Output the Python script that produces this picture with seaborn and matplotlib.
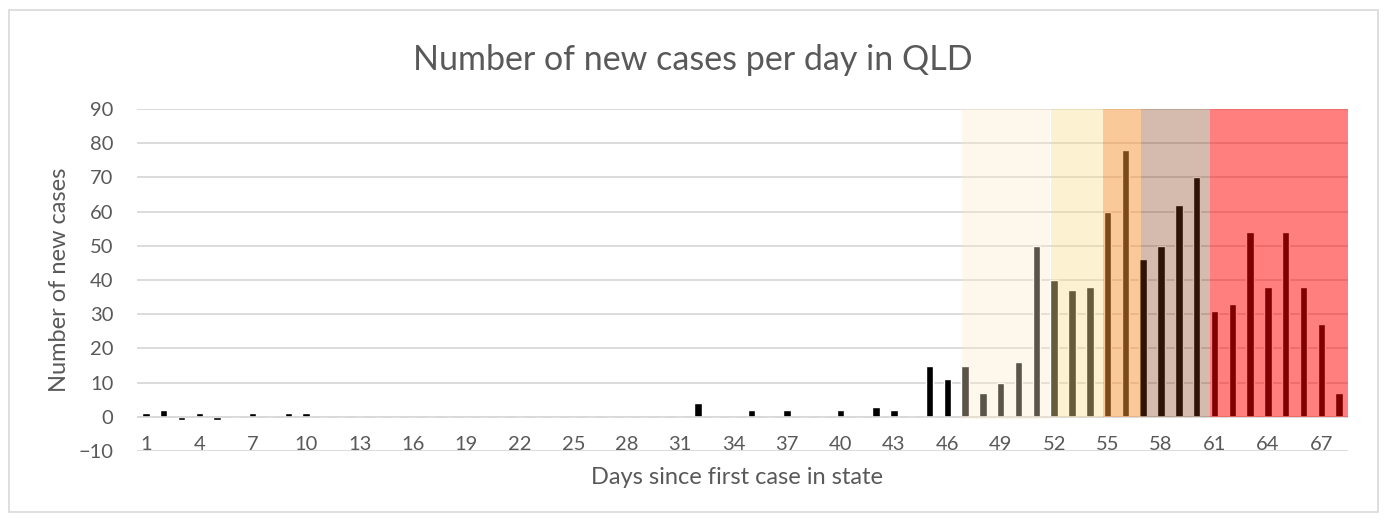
import numpy as np
import pandas as pd
import seaborn as sns
import matplotlib.pyplot as plt
from matplotlib.patches import Rectangle

# --- data: new cases per day in QLD ---
days = list(range(1, 69))
new_cases = [1, 2, -1, 1, -1, 0, 1, 0, 1, 1,
             0, 0, 0, 0, 0, 0, 0, 0, 0, 0,
             0, 0, 0, 0, 0, 0, 0, 0, 0, 0,
             0, 4, 0, 0, 2, 0, 2, 0, 0, 2,
             0, 3, 2, 0, 15, 11, 15, 7, 10, 16,
             50, 40, 37, 38, 60, 78, 46, 50, 62, 70,
             31, 33, 54, 38, 54, 38, 27, 7]
tick_days = days[::3]

# shaded phases (in days)
phase_start = [46.8, 51.85, 54.75, 56.9, 60.75]
phase_end = [51.75, 54.75, 56.9, 60.75, 68.5]
phase_top = [90.6, 91.5, 91.0, 90.0, 90.3]
phase_bottom = [-0.6, 0, 0, 0, 0]
phase_colors = ['#faecc8', '#f9e092', '#f69436', '#863c14', '#ff0000']
phase_alpha = [0.36, 0.41, 0.5, 0.35, 0.5]

df = pd.DataFrame({'day': days, 'cases': new_cases})

sns.set_theme(style='white')
plt.rcParams['font.family'] = ['Lato', 'DejaVu Sans']
txt = '#595959'

fig = plt.figure(figsize=(13.87, 5.2), dpi=100)
ax = fig.add_axes([137 / 1387, 1 - 451 / 520, (1348 - 137) / 1387, (451 - 109) / 520])

sns.barplot(data=df, x='day', y='cases', color='black', saturation=1,
            width=0.42, ax=ax, zorder=2)

# phase overlays on top of bars
for s, e, t, b, c, a in zip(phase_start, phase_end, phase_top, phase_bottom,
                            phase_colors, phase_alpha):
    ax.add_patch(Rectangle((s - 1, b), e - s, t - b, facecolor=c, alpha=a,
                           edgecolor='none', zorder=4))

ax.axhline(0, color='#d9d9d9', lw=1.2, zorder=3)
ax.set_ylim(-10, 90)
ax.set_xlim(-0.5, 67.5)
ax.set_yticks(range(-10, 91, 10))
ax.yaxis.grid(True, color='#d9d9d9', lw=1.3)
ax.set_axisbelow(True)
for sp in ax.spines.values():
    sp.set_visible(False)

ax.set_xticks([d - 1 for d in tick_days])
ax.set_xticklabels(tick_days)
ax.tick_params(axis='x', length=0, pad=-10.5, labelsize=14.5, labelcolor=txt)
ax.tick_params(axis='y', length=0, pad=17, labelsize=14.5, labelcolor=txt)
ax.set_xlabel('')
ax.set_ylabel('Number of new cases', fontsize=17, color=txt, labelpad=6)

fig.text(737 / 1387, 1 - 478 / 520, 'Days since first case in state',
         ha='center', va='center', fontsize=17, color=txt)
fig.text(693 / 1387, 1 - 60 / 520, 'Number of new cases per day in QLD',
         ha='center', va='center', fontsize=24.5, color=txt)

# chart-area border
fig.patches.append(Rectangle((9 / 1387, 1 - 512 / 520), (1378 - 9) / 1387,
                             (512 - 10) / 520, transform=fig.transFigure,
                             facecolor='none', edgecolor='#d9d9d9', lw=1.2))

fig.savefig('out.png', dpi=100)
